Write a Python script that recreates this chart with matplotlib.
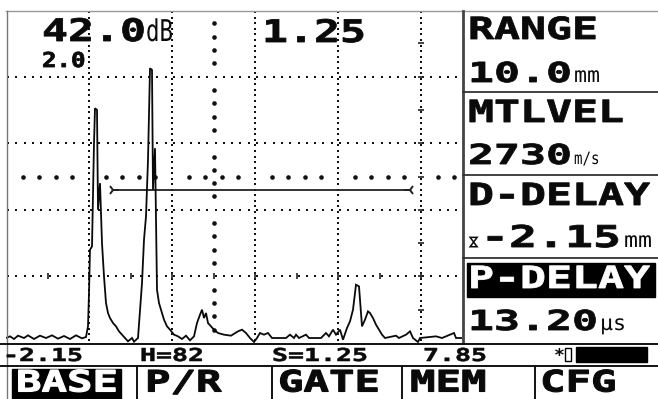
import matplotlib
matplotlib.use("Agg")
import matplotlib.pyplot as plt
import numpy as np
from matplotlib.patheffects import AbstractPathEffect
from matplotlib.transforms import Affine2D
from matplotlib.patches import Rectangle

# ---------------- data ----------------
# A-scan trace: screen column (0..456) and amplitude (% full screen height)
wave_col = [0, 4, 8, 12, 18, 22, 28, 34, 40, 46, 52, 58, 64, 70, 76, 80,
            82, 83, 84, 86, 88, 89, 91, 92, 94, 96, 98, 100, 102, 104, 107, 110,
            113, 116, 119, 122, 126, 128, 132, 136, 138, 140, 142, 144, 146, 147,
            149, 151, 153, 155, 158, 161, 164, 168, 172, 176, 180, 184, 188, 191,
            194, 196, 198, 200, 202, 205, 208, 212, 218, 225, 232, 236, 240, 244,
            248, 251, 254, 258, 262, 266, 280, 284, 288, 290, 293, 300, 303, 315,
            320, 323, 327, 330, 334, 337, 341, 344, 347, 350, 353, 356, 359, 362,
            364, 367, 370, 373, 376, 379, 390, 393, 400, 404, 407, 412, 414, 430,
            436, 448, 450, 456]
wave_amp = [1.5, 2.0, 1.2, 2.2, 1.5, 2.3, 1.2, 2.2, 1.5, 2.3, 1.3, 2.1, 1.2, 2.3, 1.4, 1.8,
            5, 15, 28, 29, 60, 70.5, 70, 40, 48, 30, 20, 12, 9, 7.5, 6, 5,
            3.5, 2.5, 1.5, 0.5, 1.5, 0.4, 1.5, 18, 31, 38, 55, 82.5, 82, 46,
            58.5, 16, 12, 10, 7, 5, 4, 2.5, 2.0, 1.2, 2.2, 0.8, 2.0, 6,
            8.5, 10, 7.5, 9, 6, 5, 4, 3, 2.5, 2.2, 3.5, 4, 3, 1.5,
            0.3, 1.5, 3, 2.5, 3, 1.5, 1.5, 2.5, 1.5, 2.5, 1.5, 2.5, 1.5, 1.5,
            3, 2, 4, 2.5, 4, 1, 4.5, 6.5, 10, 17.5, 17, 5, 7, 9.5,
            9, 7.5, 5.5, 4, 2.5, 1.5, 2.2, 1.5, 2.5, 3.5, 1.5, 0.3, 1.5, 2,
            1.5, 3, 1.5, 1.5]

grid_cols = [83, 166, 249, 332, 415]
grid_amps = [20, 40, 60, 80]
center_col = 207.5
center_amp = 50
gate_start, gate_end, gate_level = 107, 404, 46

gain_text = "42.0"
gain_unit = "dB"
step_text = "2.0"
sound_path_text = "1.25"
panel_labels = ["RANGE", "MTLVEL", "D-DELAY", "P-DELAY"]
panel_values = ["10.0", "2730", "-2.15", "13.20"]
panel_units = ["mm", "m/s", "mm", "µs"]
status_texts = ["-2.15", "H=82", "S=1.25", "7.85"]
menu_items = ["BASE", "P/R", "GATE", "MEM", "CFG"]


# ---------------- helpers ----------------
class Stretch(AbstractPathEffect):
    """Horizontally widen (and slightly embolden) glyphs, LCD-like wide font."""
    def __init__(self, sx, lw=0.0):
        super().__init__()
        self.sx = sx
        self.lw = lw

    def draw_path(self, renderer, gc, tpath, affine, rgbFace=None):
        gc0 = renderer.new_gc()
        gc0.copy_properties(gc)
        if self.lw > 0 and rgbFace is not None:
            gc0.set_linewidth(self.lw)
            gc0.set_foreground(rgbFace)
            gc0.set_joinstyle("miter")
        renderer.draw_path(gc0, tpath, Affine2D().scale(self.sx, 1) + affine, rgbFace)
        gc0.restore()


W, H = 658, 399
fig = plt.figure(figsize=(W / 100, H / 100), dpi=100)
fig.patch.set_facecolor("white")

# waveform axes (screen area)
L, T, R, B = 6, 10, 462, 343
axw = fig.add_axes([L / W, 1 - B / H, (R - L) / W, (B - T) / H])
axw.set_xlim(0, 456)
axw.set_ylim(0, 100)
axw.axis("off")

# overlay axes in pixel coords
ax = fig.add_axes([0, 0, 1, 1], zorder=5)
ax.set_xlim(0, W)
ax.set_ylim(H, 0)
ax.axis("off")
ax.patch.set_alpha(0)

FAM = "DejaVu Sans Mono"


def T_(x, y, s, em_px, adv_px, weight="bold", color="#0a0a0a", family=FAM, lw=0.6):
    fs = em_px * 0.72
    sx = adv_px / (0.602 * em_px)
    ax.text(x, y, s, fontsize=fs, ha="left", va="baseline", color=color,
            family=family, weight=weight, path_effects=[Stretch(sx, lw)], zorder=10)


# ---------------- graticule ----------------
dot = dict(marker="s", color="#111111", linestyle="none", markersize=1.45, mew=0, zorder=2)
vy = np.arange(1.0, 100.01, 100 / 60)
for c in grid_cols:
    axw.plot([c] * len(vy), vy, **dot)
hx = np.arange(2, 456, 8.3)
for a in grid_amps:
    axw.plot(hx, [a] * len(hx), **dot)

big = dict(marker="o", color="#111111", linestyle="none", markersize=3.3, mew=0, zorder=2)
cy = [k * 4 for k in range(1, 25) if k % 5 != 0]
axw.plot([center_col] * len(cy), cy, **big)
cx = [k * 16.6 for k in range(1, 28) if k % 5 != 0]
axw.plot(cx, [center_amp] * len(cx), **big)

# ticks on the last gridline and 20% line
tk = [k * 10 for k in range(1, 10)]
axw.plot([grid_cols[-1]] * len(tk), tk, marker="_", markersize=4, mew=1.2,
         color="#222222", linestyle="none", zorder=2)
tx = [k * 41.5 for k in range(1, 11)]
axw.plot(tx, [20] * len(tx), marker="|", markersize=4, mew=1.2,
         color="#222222", linestyle="none", zorder=2)

# ---------------- trace and gate ----------------
axw.plot(wave_col, wave_amp, color="#0a0a0a", lw=1.3, zorder=4, solid_joinstyle="miter")
axw.plot([gate_start, gate_end], [gate_level, gate_level], color="#222222", lw=1.3, zorder=3)
axw.plot([gate_start], [gate_level], marker="4", markersize=8, mew=1.4, color="#222222", zorder=3)
axw.plot([gate_end], [gate_level], marker="3", markersize=8, mew=1.4, color="#222222", zorder=3)

# ---------------- frame ----------------
lc = "#333333"
ax.plot([6, W], [11, 11], color="#999999", lw=1.0)
ax.plot([6.5, 6.5], [11, H], color="#777777", lw=1.0)
ax.plot([463, 463], [11, 343], color="#444444", lw=2.0)
for yy in [91.5, 175, 258]:
    ax.plot([463, W], [yy, yy], color=lc, lw=1.3)
ax.plot([0, W], [343.5, 343.5], color="#111111", lw=1.4)
ax.plot([0, W], [366, 366], color="#111111", lw=1.4)
for xx in [137, 272, 402, 535]:
    ax.plot([xx, xx], [366, H], color="#111111", lw=1.4)

# P-DELAY highlight and BASE highlight
ax.add_patch(Rectangle((467, 263), 188, 34, color="#000000", zorder=8))
ax.add_patch(Rectangle((12, 369), 109, 30, color="#000000", zorder=8))

# battery
ax.add_patch(Rectangle((565, 348), 6, 13, fill=False, ec="#000000", lw=1.0, zorder=8))
ax.add_patch(Rectangle((576, 347), 71, 15, color="#000000", zorder=8))

# ---------------- texts ----------------
T_(42, 41, gain_text, 31, 26)
T_(146, 41, gain_unit, 30, 13.5, weight="normal", lw=0)
T_(42, 67, step_text, 20.5, 14.5)
T_(262, 42, sound_path_text, 31, 26)

label_y = [39, 122, 205, 288]
value_y = [82, 164, 247, 330]
for i, (lab, val, unit) in enumerate(zip(panel_labels, panel_values, panel_units)):
    col = "white" if i == 3 else "#0a0a0a"
    T_(468, label_y[i], lab, 30.5, 26, color=col)
    if i == 2:
        # delay-adjust (hourglass) symbol
        ax.text(474, value_y[i] - 7, "⋈", fontsize=10, family="DejaVu Sans",
                rotation=90, ha="center", va="center", color="#0a0a0a",
                weight="bold", zorder=10)
        T_(481, value_y[i], val, 30, 28)
        T_(624, value_y[i], unit, 21, 14, weight="normal", lw=0)
    else:
        T_(468, value_y[i], val, 27.5, 26)
        n = len(val)
        ux = 468 + 26 * n + 2
        if unit == "m/s":
            T_(ux, value_y[i], unit, 17, 8.5, weight="normal", lw=0)
        else:
            T_(ux, value_y[i], unit, 21, 13, weight="normal", lw=0)

status_x = [3, 140, 272, 423]
for sx_, s in zip(status_x, status_texts):
    T_(sx_, 361, s, 17.8, 16, lw=0.4)
ax.text(554, 361, "*", fontsize=13, family=FAM, weight="bold", ha="left",
        va="baseline", color="#0a0a0a", zorder=10)

menu_x = [16, 145, 278, 410, 540]
for i, (mx, m) in enumerate(zip(menu_x, menu_items)):
    T_(mx, 391.5, m, 29.5, 25.5, color="white" if i == 0 else "#0a0a0a", lw=0.8)

fig.savefig("out.png", dpi=100, facecolor="white")
